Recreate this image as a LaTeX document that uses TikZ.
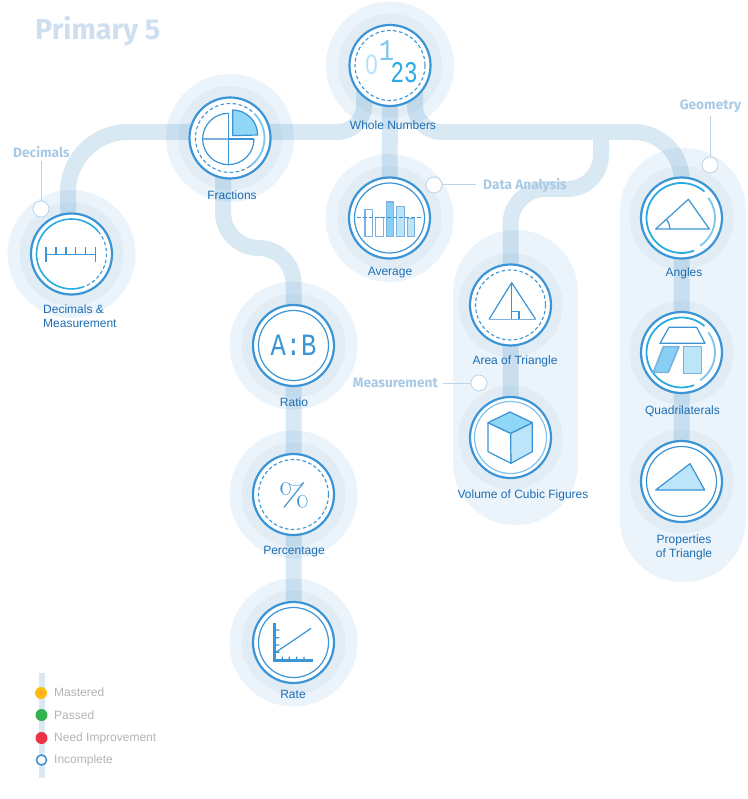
\documentclass[tikz,border=0pt]{standalone}
\usepackage{fontspec}
\usetikzlibrary{calc}
\newfontfamily\labfont{Liberation Sans}
\newfontfamily\calfont{Fira Sans}
\newfontfamily\monofnt{Liberation Mono}
\definecolor{ringblue}{HTML}{3B94D6}
\definecolor{softline}{HTML}{7CB1E0}
\definecolor{skyA}{HTML}{8FD6F7}
\definecolor{skyB}{HTML}{BCE5F9}
\definecolor{brightb}{HTML}{29ABE2}
\definecolor{lightb}{HTML}{7FC4EC}
\definecolor{haloA}{HTML}{ECF4FB}
\definecolor{haloB}{HTML}{E1ECF5}
\definecolor{trackc}{HTML}{2F84C0}
\definecolor{labc}{HTML}{1D6DB2}
\definecolor{calc}{HTML}{A9C9E5}
\definecolor{titlec}{HTML}{CFDFF0}
\definecolor{legc}{HTML}{B0B4B7}
\definecolor{legy}{HTML}{FDBE13}
\definecolor{lego}{HTML}{FBAA1C}
\definecolor{legg}{HTML}{35B24F}
\definecolor{legr}{HTML}{EA3344}
\pgfdeclarelayer{halolayer}
\pgfdeclarelayer{tracklayer}
\pgfsetlayers{halolayer,tracklayer,main}
\tikzset{
  lesson/.style={circle,draw=ringblue,line width=2.2pt,fill=white,minimum size=81pt,inner sep=0pt},
  outerhalo/.style={circle,fill=haloA,minimum size=128pt,inner sep=0pt},
  innerhalo/.style={circle,fill=haloB,minimum size=104pt,inner sep=0pt},
  panel/.style={fill=haloA,rounded corners=62pt},
  track/.style={draw=trackc,draw opacity=.18,line width=16pt},
  lab/.style={font=\labfont\fontsize{12}{14}\selectfont,text=labc,inner sep=0pt,align=center},
  cal/.style={font=\calfont\bfseries\fontsize{13.7}{16}\selectfont,text=calc,inner sep=0pt},
  dot/.style={circle,draw=calc!80,line width=.8pt,fill=white,minimum size=16pt,inner sep=0pt},
  callline/.style={draw=calc!80,line width=1pt},
  solidring/.style={draw=ringblue,line width=1.2pt},
  dashring/.style={draw=ringblue,line width=1.1pt,dash pattern=on 3.5pt off 2.5pt},
  brightarc/.style={draw=brightb,line width=1.8pt},
  lightarc/.style={draw=lightb,line width=1.8pt},
  icon/.style={draw=ringblue,line width=1.2pt,line join=round},
  softicon/.style={draw=softline,line width=1.6pt,line join=round},
  leg/.style={font=\labfont\fontsize{12}{14}\selectfont,text=legc,inner sep=0pt,anchor=west},
  zoomed/.style={x=.33333pt,y=-.33333pt},
}
\begin{document}
\begin{tikzpicture}[x=1pt,y=-1pt]
\useasboundingbox (0,0) rectangle (747,799);
% lesson nodes
\node[lesson] (whole) at (390,65.5) {};
\node[lesson] (frac) at (230,138) {};
\node[lesson] (dec) at (71.5,254) {};
\node[lesson] (avg) at (389.5,218) {};
\node[lesson] (area) at (510.5,305) {};
\node[lesson] (vol) at (510.5,437.5) {};
\node[lesson] (ang) at (681.5,218) {};
\node[lesson] (quad) at (681.5,352.5) {};
\node[lesson] (prop) at (681.5,481.5) {};
\node[lesson] (ratio) at (293.5,345.5) {};
\node[lesson] (perc) at (293.5,494.5) {};
\node[lesson] (rate) at (293.5,642.5) {};
% background
\begin{pgfonlayer}{halolayer}
\fill[panel] (453,230) rectangle (578,525);
\fill[panel] (620,148) rectangle (746,582);
\foreach \n in {whole,frac,dec,avg,ratio,perc,rate}
  \node[outerhalo] (\n HA) at (\n.center) {};
\foreach \n in {whole,frac,dec,avg,area,vol,ang,quad,prop,ratio,perc,rate}
  \node[innerhalo] (\n HB) at (\n.center) {};
\end{pgfonlayer}
\begin{pgfonlayer}{tracklayer}
\path[track]
  (dec.center) ++(-3.5,0) -- (68,192) .. controls (68,159) and (95,132) .. (128,132) -- (338,132)
     .. controls (352,132) and (364,120) .. (364,106) -- (364,70)
  (whole.center) ++(25,0) -- (415,106) .. controls (415,120) and (427,132) .. (441,132) -- (633,132)
     .. controls (660,132) and (681.5,153) .. (681.5,180) -- (ang.center)
  (whole.center) -- (avg.center)
  (601,132) -- (601,155) .. controls (601,174) and (586,189) .. (567,189) -- (545,189)
     .. controls (526,189) and (510.5,205) .. (510.5,224) -- (area.center)
  (area.center) -- (vol.center)
  (ang.center) -- (quad.center)
  (quad.center) -- (prop.center)
  (frac.center) ++(-7,0) -- (223,212) .. controls (223,232) and (239,248) .. (259,248)
     .. controls (278,248) and (293.5,264) .. (293.5,283) -- (ratio.center)
  (ratio.center) -- (perc.center)
  (perc.center) -- (rate.center);
\end{pgfonlayer}
% title
\node[font=\calfont\bfseries\fontsize{28.8}{30}\selectfont,text=titlec,anchor=west,inner sep=0pt] (title) at (35,31) {Primary 5};
% whole numbers icon
\draw[dashring] (whole.center) circle (35);
\node[inner sep=0pt,font=\labfont\fontsize{28}{30}\selectfont,text=skyB!80!skyA,xscale=.8] (d0) at (371.5,65) {0};
\node[inner sep=0pt,font=\monofnt\fontsize{30}{32}\selectfont,text=lightb,xscale=.85] (d1) at (386.5,51) {1};
\node[inner sep=0pt,font=\monofnt\fontsize{30}{32}\selectfont,text=brightb,xscale=.75] (d2) at (404,73) {23};
% fractions icon
\draw[dashring] (frac.center) ++(34.5*cos 50,-34.5*sin 50) arc[start angle=-50,delta angle=-255,radius=34.5];
\draw[lightarc] (frac.center) ++(34.5*cos 45,-34.5*sin 45) arc[start angle=-45,delta angle=100,radius=34.5];
\begin{scope}[shift={(160,80)},zoomed]
\draw[icon] (128,177) arc[start angle=180,end angle=270,radius=77];
\draw[icon] (205,100) -- (205,254);
\draw[icon] (205,254) arc[start angle=90,end angle=180,radius=77];
\draw[icon] (205,254) arc[start angle=90,end angle=0,radius=77];
\draw[icon] (205,177) -- (282,177);
\draw[softicon] (128,177) -- (205,177);
\draw[icon,fill=skyA] (218,167) -- (218,90) arc[start angle=270,end angle=360,radius=75] -- cycle;
\end{scope}
% decimals icon
\draw[draw=brightb,line width=1.6pt] (dec.center) ++(35*cos 40,-35*sin 40) arc[start angle=-40,delta angle=-250,radius=35];
\draw[dashring] (dec.center) ++(35*cos 40,-35*sin 40) arc[start angle=-40,delta angle=110,radius=35];
\draw[ringblue,line width=1.9pt] (46,247) -- (46,262) (46,254.5) -- (95.5,254.5) (95.5,247) -- (95.5,262)
  (56,247) -- (56,254.5) (66,247) -- (66,254.5) (75.5,247) -- (75.5,254.5) (85.5,247) -- (85.5,254.5);
% average icon
\draw[solidring] (avg.center) circle (35);
\begin{scope}[shift={(320,170)},zoomed]
\draw[softicon,fill=white] (135,118) rectangle (158,200);
\draw[softicon,fill=white] (167,142) rectangle (191,200);
\draw[softicon,fill=skyA!90!ringblue] (199,96) rectangle (221,200);
\draw[softicon,fill=skyB] (230,110) rectangle (253,200);
\draw[softicon,fill=skyB] (262,146) rectangle (284,200);
\draw[dashring,line width=.9pt] (112,142) -- (310,142);
\end{scope}
% area icon
\draw[dashring] (area.center) circle (35);
\begin{scope}[shift={(450,250)},zoomed]
\draw[icon] (117,208) -- (185,98) -- (257,208);
\draw[icon] (185,98) -- (185,208) (185,185) -- (207,185) -- (207,208);
\draw[softicon] (117,208) -- (257,208);
\end{scope}
% volume icon
\draw[draw=lightb,line width=1.2pt] (vol.center) circle (36);
\begin{scope}[shift={(450,250)},zoomed]
\draw[icon,fill=white] (114,518) -- (182,550) -- (183,640) -- (114,605) -- cycle;
\draw[icon,fill=skyB] (182,550) -- (247,518) -- (247,605) -- (183,640) -- cycle;
\draw[icon,fill=skyA] (114,518) -- (180,486) -- (247,518) -- (182,550) -- cycle;
\end{scope}
% angles icon
\draw[brightarc] (ang.center) ++(35*cos 49,-35*sin 49) arc[start angle=-49,delta angle=-242,radius=35];
\draw[lightarc] (ang.center) ++(33.5*cos 37,-33.5*sin 37) arc[start angle=-37,delta angle=93,radius=33.5];
\begin{scope}[shift={(620,170)},zoomed]
\draw[icon] (107,177) -- (205,88) -- (268,177) -- cycle;
\draw[icon] (150,177) .. controls (150,167) and (146,158) .. (139,148);
\end{scope}
% quadrilaterals icon
\draw[brightarc] (quad.center) ++(35*cos 49,-35*sin 49) arc[start angle=-49,delta angle=-242,radius=35];
\draw[lightarc] (quad.center) ++(33.5*cos 37,-33.5*sin 37) arc[start angle=-37,delta angle=93,radius=33.5];
\begin{scope}[shift={(620,170)},zoomed]
\draw[icon] (120,520) -- (255,520) -- (230,472) -- (147,472) -- cycle;
\draw[softicon,fill=skyA!90!ringblue] (100,607) -- (145,607) -- (177,530) -- (130,530) -- cycle;
\draw[softicon,fill=skyB] (191,530) rectangle (245,610);
\end{scope}
% properties icon
\draw[solidring] (prop.center) circle (35);
\begin{scope}[shift={(620,420)},zoomed]
\draw[icon,fill=skyB] (107,210) -- (210,131) -- (254,210) -- cycle;
\end{scope}
% ratio icon
\draw[solidring] (ratio.center) circle (35);
\node[inner sep=0pt,font=\monofnt\fontsize{31}{32}\selectfont,text=ringblue,xscale=.82] (ab) at (293.5,345) {A:B};
% percentage icon
\draw[dashring] (perc.center) circle (35);
\node[inner sep=0pt,font=\fontsize{32}{35}\selectfont,text=ringblue,xscale=1.25] (pct) at (294,495) {\%};
% rate icon
\draw[solidring] (rate.center) circle (35);
\begin{scope}[shift={(230,590)},zoomed]
\draw[ringblue,line width=2.4pt] (133,98) -- (133,212) -- (250,212);
\draw[ringblue,line width=1.2pt] (133,120) -- (148,120) (133,143) -- (148,143) (133,165) -- (148,165)
  (133,187) -- (148,187) (157,212) -- (157,200) (178,212) -- (178,200) (200,212) -- (200,200) (222,212) -- (222,200)
  (133,190) -- (243,115);
\end{scope}
% labels
\node[lab] (lwhole) at (393,125) {Whole Numbers};
\node[lab] (lfrac) at (232,195.5) {Fractions};
\node[lab,align=left,anchor=north west] (ldec) at (43,304.5) {Decimals \&\\Measurement};
\node[lab] (lavg) at (390,273) {Average};
\node[lab] (larea) at (515,361.5) {Area of Triangle};
\node[lab] (lvol) at (523,495.5) {Volume of Cubic Figures};
\node[lab] (lang) at (684,273) {Angles};
\node[lab] (lquad) at (682.5,411.5) {Quadrilaterals};
\node[lab] (lprop) at (684,547) {Properties\\of Triangle};
\node[lab] (lratio) at (294,402) {Ratio};
\node[lab] (lperc) at (294,552) {Percentage};
\node[lab] (lrate) at (293,694) {Rate};
% callouts
\node[cal] (cdec) at (41.5,152) {Decimals};
\node[dot] (ddec) at (41,209) {};
\draw[callline] (cdec.south -| ddec) ++(0,3) -- (ddec.north);
\node[cal,anchor=west] (cdata) at (483,185) {Data Analysis};
\node[dot] (ddata) at (434,185) {};
\draw[callline] (ddata.east) -- ($(cdata.west)+(-7,0)$);
\node[cal,anchor=east] (cmeas) at (438,383) {Measurement};
\node[dot] (dmeas) at (479,383) {};
\draw[callline] ($(cmeas.east)+(5,0)$) -- (dmeas.west);
\node[cal] (cgeo) at (710.5,106) {Geometry};
\node[dot] (dgeo) at (710,165) {};
\draw[callline] (cgeo.south -| dgeo) ++(0,3) -- (dgeo.north);
% legend
\node[fill=trackc!18,minimum width=6pt,minimum height=105pt,inner sep=0pt] (legbar) at (41.5,725.5) {};
\node[circle,fill=legy,minimum size=12pt,inner sep=0pt] (lm) at (41,693) {};
\node[circle,fill=lego,minimum size=5pt,inner sep=0pt] (lmi) at (lm.center) {};
\node[circle,fill=legg,minimum size=12pt,inner sep=0pt] (lp) at (41.5,715) {};
\node[circle,fill=legr,minimum size=12pt,inner sep=0pt] (ln) at (41.5,738) {};
\node[circle,draw=ringblue,line width=1.6pt,fill=white,minimum size=10pt,inner sep=0pt] (li) at (41.5,760) {};
\node[leg] (tm) at (54,692.5) {Mastered};
\node[leg] (tp) at (54,715.5) {Passed};
\node[leg] (tn) at (54,738.5) {Need Improvement};
\node[leg] (ti) at (54,760.5) {Incomplete};
\end{tikzpicture}
\end{document}
